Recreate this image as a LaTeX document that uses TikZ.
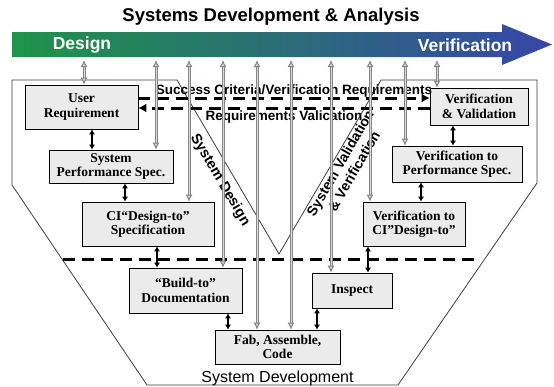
\documentclass[tikz,border=0pt]{standalone}
\usepackage{fontspec}
\setmainfont{Liberation Serif}
\setsansfont{Liberation Sans}
\usetikzlibrary{arrows.meta}

\definecolor{bargreen}{RGB}{30,148,72}
\definecolor{barteal}{RGB}{30,118,145}
\definecolor{barblue}{RGB}{55,70,168}
\definecolor{boxgray}{RGB}{235,235,235}
\definecolor{linegray}{RGB}{60,60,60}

\begin{document}
\begin{tikzpicture}[x=1pt, y=-1pt,
		box/.style={draw=black, fill=boxgray, line width=0.6pt, align=center, inner sep=0pt,
			font=\fontsize{13.5}{14.5}\selectfont\bfseries},
		garrow/.style={draw=gray!95, double=gray!30, double distance=1pt, line width=1pt,
			{Latex[length=7pt,width=7pt,fill=gray!35]}-{Latex[length=7pt,width=7pt,fill=gray!35]}},
		barrow/.style={line width=1.5pt, {Latex[length=5pt,width=6pt]}-{Latex[length=5pt,width=6pt]}},
		dline/.style={line width=3pt, dash pattern=on 12pt off 7pt},
		captxt/.style={font=\sffamily\bfseries\fontsize{13.5}{15}\selectfont}]

	\useasboundingbox (0,0) rectangle (554,386);

	\shade[left color=bargreen, middle color=barteal, right color=barblue]
		(12,32) -- (502,32) -- (502,24) -- (552,44.5) -- (502,65) -- (502,57) -- (12,57) -- cycle;

	\node[font=\sffamily\bfseries\fontsize{18.5}{20}\selectfont] (title) at (271,17) {Systems Development \& Analysis};
	\node[white, font=\sffamily\bfseries\fontsize{17.5}{19}\selectfont] (design) at (82,45) {Design};
	\node[white, font=\sffamily\bfseries\fontsize{17.5}{19}\selectfont] (verif) at (465,45) {Verification};

	\draw[linegray, line width=0.8pt]	(12,80) -- (177,80) -- (279,254) -- (381,80) -- (537,80) -- (537,183)
						-- (398,385) -- (147,385) -- (12,185) -- cycle;

	\draw[dline]	(63,259) to (475,259);

	\node[box, minimum width=113pt, minimum height=44pt] (UR) at (81.5,107) {User\\Requirement};
	\node[box, minimum width=124pt, minimum height=33pt] (perf) at (111,166.5) {System\\Performance Spec.};
	\node[box, minimum width=132pt, minimum height=44pt] (cidesign) at (148,224) {CI“Design-to”\\Specification};
	\node[box, minimum width=113pt, minimum height=45pt] (buildto) at (185.5,290.5) {“Build-to”\\Documentation};
	\node[box, minimum width=125pt, minimum height=34pt] (fab) at (277.5,347) {Fab, Assemble,\\Code};
	\node[box, minimum width=80pt, minimum height=35pt] (inspect) at (352,290.5) {Inspect};
	\node[box, minimum width=102pt, minimum height=44pt] (vci) at (414,224) {Verification to\\CI”Design-to”};
	\node[box, minimum width=130pt, minimum height=36pt] (vperf) at (457,164) {Verification to\\Performance Spec.};
	\node[box, minimum width=98pt, minimum height=37pt] (vv) at (479,106.5) {Verification\\\& Validation};

	\node[captxt] (succ) at (294,91) {Success Criteria/Verification Requirements};
	\node[captxt] (reqval) at (284,117) {Requirements Valication};
	\node[captxt, font=\sffamily\bfseries\fontsize{14.5}{16}\selectfont, rotate=-59.5] (sysdes) at (220,180) {System Design};
	\node[captxt, font=\sffamily\bfseries\fontsize{14}{16}\selectfont, rotate=60, align=center] (sysval) at (347,167)
		{System Validation\\\& Verification};
	\node[font=\sffamily\fontsize{16}{18}\selectfont] (sysdev) at (277.5,378) {System Development};

	\foreach \x/\p/\q in {92/UR/perf, 125/perf/cidesign, 157/cidesign/buildto, 228/buildto/fab,
			317/inspect/fab, 368/vci/inspect, 421/vperf/vci, 453/vv/vperf}
		\draw[barrow]	(\x,0 |- \p.south) to (\x,0 |- \q.north);

	\draw[dline, -{Latex[length=8pt,width=9pt]}]	(UR.east |- 0,98) to (vv.west |- 0,98);
	\draw[dline, -{Latex[length=8pt,width=9pt]}]	(vv.west |- 0,108) to (UR.east |- 0,108);

	\coordinate (barfoot) at (0,60);
	\foreach \x/\q in {84/UR, 156/perf, 189/cidesign, 223/buildto, 257/fab, 291/fab,
			331/inspect, 370/vci, 405/vperf, 437/vv}
		\draw[garrow]	(barfoot -| \x,0) to (\x,0 |- \q.north);
\end{tikzpicture}
\end{document}
